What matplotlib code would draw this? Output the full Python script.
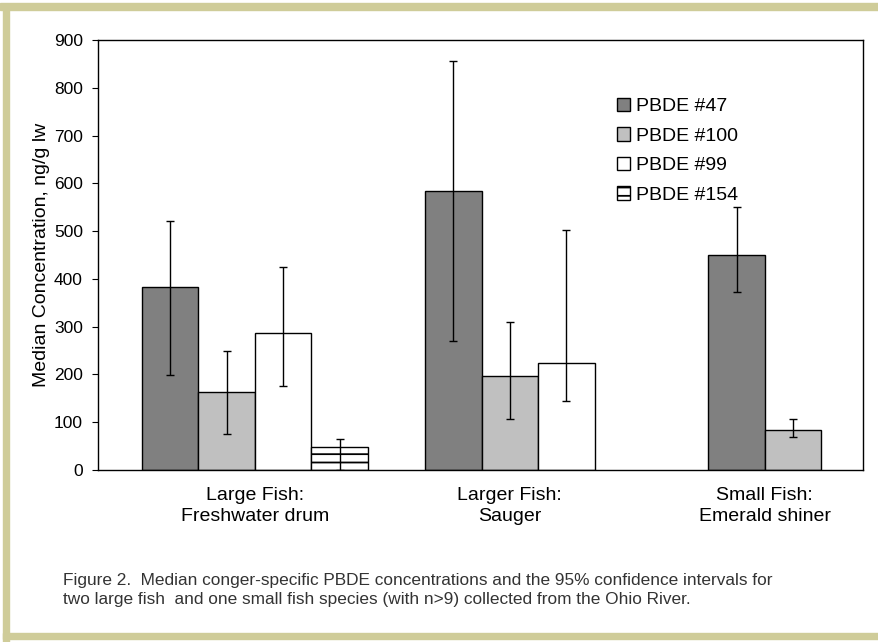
import matplotlib.pyplot as plt
from matplotlib.patches import Rectangle
import numpy as np

plt.rcParams['font.family'] = ['Liberation Sans', 'DejaVu Sans']
plt.rcParams['hatch.linewidth'] = 1.3

# dados
categorias = ["Large Fish:\nFreshwater drum", "Larger Fish:\nSauger", "Small Fish:\nEmerald shiner"]
series = ["PBDE #47", "PBDE #100", "PBDE #99", "PBDE #154"]
medianas = {
    "PBDE #47": [384, 583, 449],
    "PBDE #100": [163, 196, 83],
    "PBDE #99": [286, 225, None],
    "PBDE #154": [48, None, None],
}
ic_inf = {
    "PBDE #47": [198, 270, 373],
    "PBDE #100": [76, 106, 69],
    "PBDE #99": [175, 144, None],
    "PBDE #154": [0, None, None],
}
ic_sup = {
    "PBDE #47": [521, 857, 550],
    "PBDE #100": [250, 309, 107],
    "PBDE #99": [424, 503, None],
    "PBDE #154": [64, None, None],
}
cores = {"PBDE #47": "#808080", "PBDE #100": "#c0c0c0", "PBDE #99": "white", "PBDE #154": "white"}
hachuras = {"PBDE #47": None, "PBDE #100": None, "PBDE #99": None, "PBDE #154": "--"}

fig = plt.figure(figsize=(8.79, 6.42), dpi=100)
ax = fig.add_axes([98 / 879, 1 - 470 / 642, 765 / 879, 430 / 642])

largura = 0.222
handles = {}
for c in range(len(categorias)):
    presentes = [s for s in series if medianas[s][c] is not None]
    n = len(presentes)
    for i, s in enumerate(presentes):
        x = c + (i - (n - 1) / 2) * largura
        y = medianas[s][c]
        b = ax.bar(x, y, width=largura, color=cores[s], edgecolor='black',
                   linewidth=1, hatch=hachuras[s], label=s)
        handles[s] = b
        ax.errorbar(x, y, yerr=[[y - ic_inf[s][c]], [ic_sup[s][c] - y]],
                    fmt='none', ecolor='black', elinewidth=1, capsize=3, capthick=1)

ax.set_xlim(-0.615, 2.385)
ax.set_ylim(0, 900)
ax.set_yticks(np.arange(0, 901, 100))
ax.set_xticks(range(len(categorias)))
ax.set_xticklabels(categorias, fontsize=14, linespacing=1.3)
ax.tick_params(axis='x', length=0, pad=12)
ax.tick_params(axis='y', labelsize=12.5, length=4.3, pad=6.5, direction='out')
ax.set_ylabel('Median Concentration, ng/g lw', fontsize=14, va='center')
ax.yaxis.set_label_coords(-0.0745, 0.5)
for sp in ax.spines.values():
    sp.set_linewidth(1)

ax.legend([handles[s] for s in series], series, loc='upper left',
          bbox_to_anchor=(0.678, 0.866), frameon=False, fontsize=14,
          handlelength=0.68, handleheight=0.68, handletextpad=0.3,
          labelspacing=0.62, borderaxespad=0, borderpad=0)

fig.text(63 / 879, 1 - 590 / 642,
         "Figure 2.  Median conger-specific PBDE concentrations and the 95% confidence intervals for\n"
         "two large fish  and one small fish species (with n>9) collected from the Ohio River.",
         fontsize=12.4, color='#333333', va='center', linespacing=1.35)

# moldura caqui
moldura = '#cfcc99'
fig.patches.append(Rectangle((0, 1 - 9.5 / 642), 1, 6 / 642, transform=fig.transFigure,
                             color=moldura, zorder=0))
fig.patches.append(Rectangle((3 / 879, 0), 6 / 879, 1 - 3.5 / 642, transform=fig.transFigure,
                             color=moldura, zorder=0))
fig.patches.append(Rectangle((3 / 879, 3 / 642), 1, 6 / 642, transform=fig.transFigure,
                             color=moldura, zorder=0))

fig.savefig('out.png', dpi=100)
